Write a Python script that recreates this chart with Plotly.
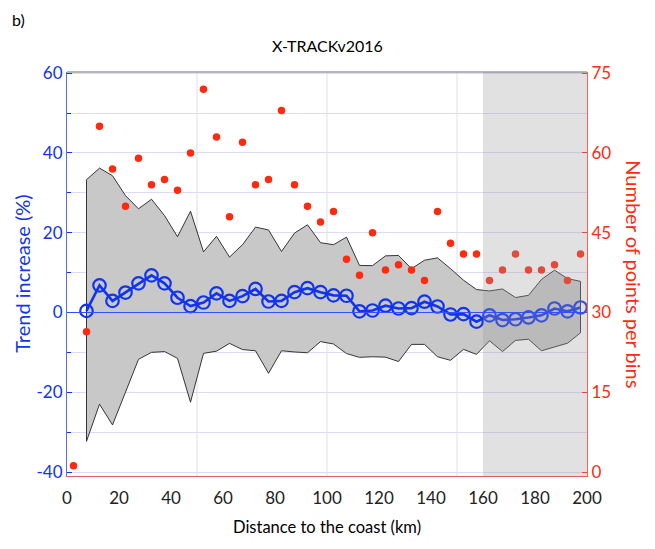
import plotly.graph_objects as go

# bin centres (km)
dist_trend = [7.5 + 5 * i for i in range(39)]
dist_count = [2.5 + 5 * i for i in range(40)]

# mean trend increase (%) and its envelope
trend = [0.4, 6.8, 2.9, 5.0, 7.3, 9.3, 7.3, 3.7, 1.6, 2.5,
         4.8, 2.9, 4.1, 5.9, 2.75, 2.9, 5.1, 6.1, 5.1, 4.3,
         4.2, 0.3, 0.5, 1.7, 1.0, 1.1, 2.7, 1.5, -0.5, -0.4,
         -2.3, -0.7, -1.9, -1.7, -1.25, -0.7, 1.0, 0.3, 1.25]
upper = [33.3, 36.2, 34.3, 29.3, 26.0, 28.4, 24.3, 19.0, 25.4, 15.2,
         19.1, 13.9, 17.0, 21.4, 20.7, 15.3, 19.9, 22.0, 17.5, 17.0,
         18.9, 11.8, 11.75, 14.2, 14.3, 11.0, 13.1, 13.7, 11.0, 8.1,
         5.75, 5.4, 5.9, 3.75, 4.3, 8.3, 10.6, 8.5, 7.8]
lower = [-32.3, -23.0, -28.2, -19.8, -11.75, -10.0, -9.8, -11.5, -22.5, -10.25,
         -9.7, -7.75, -9.3, -9.6, -15.25, -9.6, -9.9, -10.1, -7.3, -7.9,
         -10.3, -11.25, -11.1, -11.2, -12.3, -8.0, -8.0, -11.1, -12.0, -9.25,
         -10.5, -7.1, -9.8, -7.0, -6.7, -9.6, -8.6, -7.7, -5.1]

# number of points per bin
counts = [1.2, 26.4, 65, 57, 50, 59, 54, 55, 53, 60,
          72, 63, 48, 62, 54, 55, 68, 54, 50, 47,
          49, 40, 37, 45, 38, 39, 38, 36, 49, 43,
          41, 41, 36, 38, 41, 38, 38, 39, 36, 41]

left_ticks = [-40, -20, 0, 20, 40, 60]
right_ticks = [0, 15, 30, 45, 60, 75]
x_ticks = list(range(0, 201, 20))

BLUE = "#1034f0"
RED = "#ff2a10"
FONT = "Lato"

fig = go.Figure()

fig.add_trace(go.Scatter(
    x=dist_trend + dist_trend[::-1] + [dist_trend[0]],
    y=upper + lower[::-1] + [upper[0]],
    fill="toself", fillcolor="#c8c8c8",
    line=dict(color="#222222", width=0.9), mode="lines",
    hoverinfo="skip", showlegend=False))

fig.add_trace(go.Scatter(
    x=dist_trend, y=trend, mode="lines+markers",
    line=dict(color=BLUE, width=2.6),
    marker=dict(symbol="circle-open", size=12.5, color=BLUE, line=dict(width=2.2)),
    showlegend=False))

fig.add_trace(go.Scatter(
    x=dist_count, y=counts, mode="markers", yaxis="y2",
    marker=dict(color=RED, size=7.5),
    showlegend=False))

# grey shaded zone beyond 160 km (drawn on top, semi-transparent)
fig.add_shape(type="rect", xref="x", yref="paper", x0=160, x1=200, y0=0, y1=1,
              fillcolor="rgba(156,156,156,0.30)", line_width=0, layer="above")
fig.add_shape(type="line", xref="x", yref="y", x0=0, x1=200, y0=0, y1=0,
              line=dict(color="#3050ff", width=1), layer="above")
for gx in [50, 100, 150]:
    fig.add_shape(type="line", xref="x", yref="paper", x0=gx, x1=gx, y0=0, y1=1,
                  line=dict(color="#e4e4ec", width=1.2), layer="below")
# top frame line
fig.add_shape(type="line", xref="paper", yref="paper", x0=0, x1=1, y0=1, y1=1,
              line=dict(color="#707070", width=1.2), layer="above")

fig.update_layout(
    width=655, height=549,
    margin=dict(l=59, r=76, t=64, b=81),
    plot_bgcolor="white", paper_bgcolor="white",
    font=dict(family=FONT, size=15, color="black"),
    xaxis=dict(range=[0, 200], tickvals=x_ticks, ticktext=[str(v) for v in x_ticks],
               showgrid=False, zeroline=False,
               showline=True, linecolor="#e06060", linewidth=1.2,
               ticks="", ticklabelstandoff=6, tickfont=dict(size=17, color="#222222")),
    yaxis=dict(range=[-41, 60.3], tickvals=left_ticks,
               ticktext=[str(v) for v in left_ticks],
               showgrid=True, gridcolor="#dcdcf8", gridwidth=1,
               minor=dict(dtick=10, tick0=0, showgrid=True, gridcolor="#dcdcf8",
                          ticks="inside", ticklen=4, tickcolor=BLUE),
               zeroline=False, showline=True, linecolor="#5070ff", linewidth=1.2,
               ticks="inside", ticklen=5, tickcolor=BLUE,
               tickfont=dict(size=17, color=BLUE)),
    yaxis2=dict(range=[-0.75, 75.225], tickvals=right_ticks,
                ticktext=[str(v) for v in right_ticks],
                overlaying="y", side="right", showgrid=False, zeroline=False,
                showline=True, linecolor="#ff6050", linewidth=1.2,
                ticks="inside", ticklen=5, tickcolor=RED,
                tickfont=dict(size=17, color=RED)),
    annotations=[
        dict(text="X-TRACKv2016", xref="paper", yref="paper", x=0.5, y=1.0,
             yshift=38, showarrow=False, font=dict(size=16, color="black")),
        dict(text="b)", xref="paper", yref="paper", x=-0.11, y=1.0, yshift=64,
             xanchor="left", showarrow=False, font=dict(size=16, color="black")),
        dict(text="Trend increase (%)", xref="paper", yref="paper", x=-0.087, y=0.5,
             xanchor="center", yanchor="middle",
             textangle=-90, showarrow=False, font=dict(size=20, color=BLUE)),
        dict(text="Number of points per bins", xref="paper", yref="paper", x=1.09, y=0.5,
             xanchor="center", yanchor="middle",
             textangle=90, showarrow=False, font=dict(size=20, color=RED)),
        dict(text="Distance to the coast (km)", xref="paper", yref="paper", x=0.5, y=0,
             yshift=-63, showarrow=False, font=dict(size=16.5, color="black")),
    ],
)

fig.write_html("out.html")
